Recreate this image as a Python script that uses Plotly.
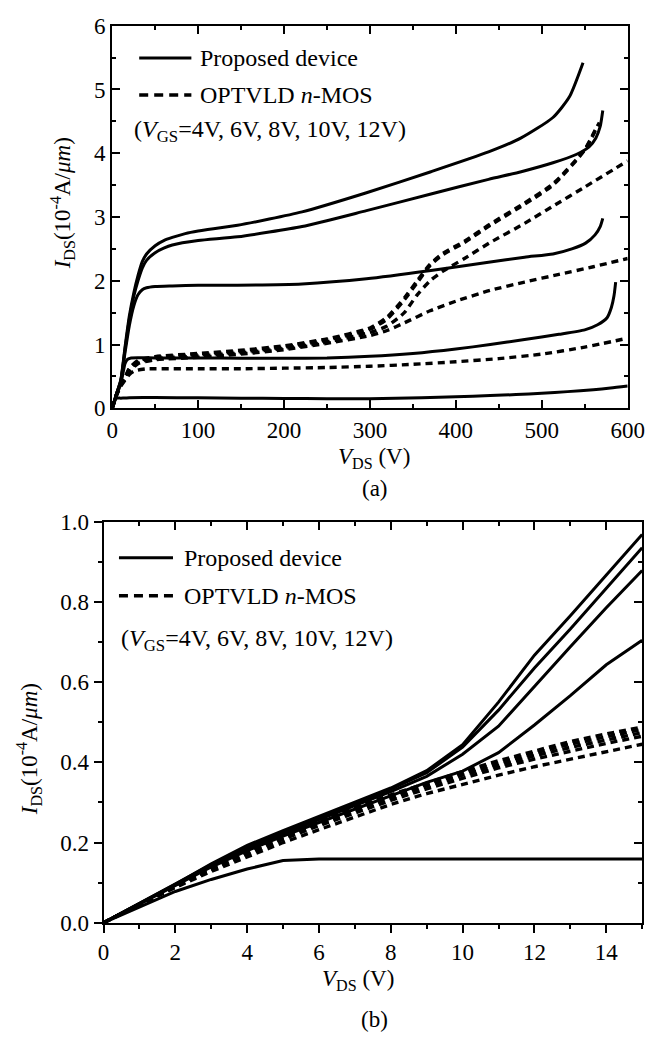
import plotly.graph_objects as go

SERIF = "Liberation Serif"

# ---------------- (a) output characteristics, V_DS up to 600 V ----------------
# Proposed device (solid), V_GS = 4, 6, 8, 10, 12 V
a_prop_x_4 = [0, 5, 10, 15, 20, 50, 100, 150, 200, 250, 300, 330, 360, 400, 440, 470, 500, 530, 560, 580, 600]
a_prop_y_4 = [0, 0.156, 0.16, 0.162, 0.166, 0.17, 0.165, 0.16, 0.155, 0.15, 0.152, 0.158, 0.165, 0.18, 0.2, 0.215, 0.238, 0.262, 0.292, 0.318, 0.35]

a_prop_x_6 = [0, 5, 10, 15, 18, 22, 50, 100, 150, 200, 250, 300, 350, 400, 440, 480, 520, 550, 565, 576, 581, 584, 586]
a_prop_y_6 = [0, 0.215, 0.378, 0.704, 0.77, 0.79, 0.79, 0.79, 0.785, 0.785, 0.79, 0.815, 0.86, 0.93, 1.0, 1.08, 1.16, 1.23, 1.31, 1.42, 1.58, 1.76, 1.98]

a_prop_x_8 = [0, 5, 10, 15, 20, 25, 30, 35, 40, 50, 70, 100, 146, 221, 296, 371, 438, 480, 513, 535, 551, 562, 568, 571]
a_prop_y_8 = [0, 0.221, 0.42, 0.878, 1.3, 1.6, 1.78, 1.86, 1.89, 1.91, 1.92, 1.93, 1.93, 1.95, 2.03, 2.16, 2.29, 2.37, 2.42, 2.5, 2.59, 2.72, 2.85, 2.98]

a_prop_x_10 = [0, 5, 10, 15, 20, 25, 30, 35, 40, 50, 60, 70, 100, 146, 221, 296, 371, 438, 476, 513, 540, 555, 563, 568, 571]
a_prop_y_10 = [0, 0.225, 0.438, 0.935, 1.4, 1.75, 2.0, 2.2, 2.32, 2.44, 2.51, 2.56, 2.63, 2.69, 2.85, 3.1, 3.36, 3.59, 3.71, 3.85, 3.98, 4.1, 4.24, 4.42, 4.67]

a_prop_x_12 = [0, 5, 10, 15, 20, 25, 30, 35, 40, 50, 60, 70, 85, 100, 146, 221, 296, 371, 438, 476, 513, 532, 548]
a_prop_y_12 = [0, 0.23, 0.444, 0.968, 1.45, 1.8, 2.08, 2.3, 2.42, 2.55, 2.63, 2.68, 2.74, 2.78, 2.87, 3.08, 3.38, 3.71, 4.02, 4.24, 4.56, 4.88, 5.42]

# OPTVLD n-MOS (dashed)
a_ref_x_4 = [0, 5, 10, 15, 20, 25, 30, 40, 50, 100, 150, 200, 250, 300, 350, 400, 450, 500, 550, 600]
a_ref_y_4 = [0, 0.2, 0.346, 0.445, 0.53, 0.58, 0.6, 0.62, 0.62, 0.62, 0.62, 0.63, 0.64, 0.66, 0.69, 0.73, 0.78, 0.85, 0.96, 1.1]

a_ref_x_6 = [0, 5, 10, 15, 20, 30, 50, 100, 150, 200, 250, 300, 320, 340, 370, 400, 440, 480, 520, 560, 600]
a_ref_y_6 = [0, 0.208, 0.361, 0.465, 0.58, 0.7, 0.76, 0.8, 0.85, 0.92, 1.02, 1.14, 1.22, 1.34, 1.53, 1.68, 1.85, 1.98, 2.1, 2.22, 2.35]

a_ref_x_8 = [0, 5, 10, 15, 20, 30, 50, 100, 150, 200, 250, 300, 320, 340, 355, 370, 385, 410, 440, 480, 513, 550, 600]
a_ref_y_8 = [0, 0.211, 0.368, 0.474, 0.6, 0.72, 0.78, 0.82, 0.87, 0.94, 1.04, 1.19, 1.29, 1.5, 1.78, 2.0, 2.15, 2.35, 2.6, 2.9, 3.17, 3.47, 3.88]

a_ref_x_10 = [0, 5, 10, 15, 20, 30, 50, 100, 150, 200, 250, 300, 320, 340, 355, 370, 385, 410, 440, 480, 513, 550, 567]
a_ref_y_10 = [0, 0.214, 0.373, 0.482, 0.62, 0.74, 0.8, 0.84, 0.89, 0.96, 1.07, 1.24, 1.4, 1.7, 1.97, 2.24, 2.41, 2.6, 2.87, 3.2, 3.5, 4.05, 4.48]

a_ref_x_12 = [0, 5, 10, 15, 20, 30, 50, 100, 150, 200, 250, 300, 320, 340, 355, 370, 385, 410, 440, 480, 513, 550, 565]
a_ref_y_12 = [0, 0.216, 0.377, 0.488, 0.63, 0.75, 0.81, 0.86, 0.91, 0.98, 1.09, 1.26, 1.43, 1.73, 2.0, 2.26, 2.43, 2.62, 2.89, 3.22, 3.52, 4.06, 4.44]

# ---------------- (b) low-voltage region, V_DS up to 15 V ----------------
b_vds = [0, 1, 2, 3, 4, 5, 6, 7, 8, 9, 10, 11, 12, 13, 14, 15]

b_prop_4 = [0, 0.039, 0.078, 0.108, 0.134, 0.155, 0.159, 0.159, 0.159, 0.159, 0.159, 0.159, 0.159, 0.159, 0.159, 0.159]
b_prop_6 = [0, 0.047, 0.093, 0.139, 0.18, 0.216, 0.25, 0.284, 0.318, 0.35, 0.378, 0.424, 0.493, 0.566, 0.643, 0.704]
b_prop_8 = [0, 0.047, 0.094, 0.142, 0.185, 0.222, 0.257, 0.292, 0.327, 0.365, 0.42, 0.49, 0.59, 0.688, 0.785, 0.878]
b_prop_10 = [0, 0.048, 0.095, 0.145, 0.19, 0.227, 0.262, 0.297, 0.333, 0.374, 0.438, 0.53, 0.635, 0.732, 0.834, 0.935]
b_prop_12 = [0, 0.048, 0.096, 0.147, 0.193, 0.23, 0.265, 0.3, 0.336, 0.379, 0.444, 0.55, 0.667, 0.765, 0.866, 0.968]

b_ref_4 = [0, 0.045, 0.088, 0.128, 0.165, 0.2, 0.232, 0.264, 0.295, 0.322, 0.346, 0.368, 0.389, 0.408, 0.427, 0.445]
b_ref_6 = [0, 0.046, 0.09, 0.132, 0.171, 0.208, 0.242, 0.274, 0.305, 0.334, 0.361, 0.386, 0.408, 0.428, 0.447, 0.465]
b_ref_8 = [0, 0.046, 0.091, 0.134, 0.174, 0.211, 0.246, 0.279, 0.311, 0.341, 0.368, 0.393, 0.416, 0.437, 0.456, 0.474]
b_ref_10 = [0, 0.047, 0.092, 0.136, 0.177, 0.214, 0.25, 0.284, 0.316, 0.346, 0.373, 0.399, 0.423, 0.445, 0.464, 0.482]
b_ref_12 = [0, 0.047, 0.093, 0.137, 0.178, 0.216, 0.252, 0.287, 0.319, 0.349, 0.377, 0.404, 0.429, 0.452, 0.471, 0.488]

SOLID = dict(color="black", width=3)
DASHED = dict(color="black", width=3.4, dash="7px,5px")
SOLID_SMOOTH = dict(SOLID, shape="spline", smoothing=0.6)
DASHED_SMOOTH = dict(DASHED, shape="spline", smoothing=0.6)

fig = go.Figure()

a_prop = [(a_prop_x_4, a_prop_y_4), (a_prop_x_6, a_prop_y_6), (a_prop_x_8, a_prop_y_8),
          (a_prop_x_10, a_prop_y_10), (a_prop_x_12, a_prop_y_12)]
a_ref = [(a_ref_x_4, a_ref_y_4), (a_ref_x_6, a_ref_y_6), (a_ref_x_8, a_ref_y_8),
         (a_ref_x_10, a_ref_y_10), (a_ref_x_12, a_ref_y_12)]

for xs, ys in a_ref:
    fig.add_trace(go.Scatter(x=xs, y=ys, mode="lines", line=DASHED_SMOOTH, xaxis="x", yaxis="y", showlegend=False))
for xs, ys in a_prop:
    fig.add_trace(go.Scatter(x=xs, y=ys, mode="lines", line=SOLID_SMOOTH, xaxis="x", yaxis="y", showlegend=False))

for ys in [b_ref_4, b_ref_6, b_ref_8, b_ref_10, b_ref_12]:
    fig.add_trace(go.Scatter(x=b_vds, y=ys, mode="lines", line=DASHED, xaxis="x2", yaxis="y2", showlegend=False))
for ys in [b_prop_4, b_prop_6, b_prop_8, b_prop_10, b_prop_12]:
    fig.add_trace(go.Scatter(x=b_vds, y=ys, mode="lines", line=SOLID, xaxis="x2", yaxis="y2", showlegend=False))

# empty trace so the inward-tick overlay axes of panel (b) get drawn
fig.add_trace(go.Scatter(x=[], y=[], xaxis="x3", yaxis="y3", showlegend=False, hoverinfo="skip"))

tickfont = dict(family=SERIF, size=23, color="black")
base = dict(showline=True, linecolor="black", linewidth=2, showgrid=False, zeroline=False,
            tickwidth=2, tickcolor="black", tickfont=tickfont)

fig.update_layout(
    width=664, height=1050,
    margin=dict(l=0, r=0, t=0, b=0),
    paper_bgcolor="white", plot_bgcolor="white",
    font=dict(family=SERIF, color="black", size=23),
    xaxis=dict(**base, domain=[110 / 664, 644 / 664], anchor="y", range=[0, 600], dtick=100,
               ticks="inside", ticklen=8, mirror="ticks",
               minor=dict(dtick=50, ticks="inside", ticklen=4, tickwidth=2, tickcolor="black")),
    yaxis=dict(**base, domain=[1 - 406 / 1050, 1 - 14 / 1050], anchor="x", range=[0, 6], dtick=1,
               ticks="inside", ticklen=8, mirror="ticks",
               minor=dict(dtick=0.5, ticks="inside", ticklen=4, tickwidth=2, tickcolor="black")),
    xaxis2=dict(**base, domain=[101 / 664, 659 / 664], anchor="y2", range=[0, 15], dtick=2,
                ticks="outside", ticklen=8, mirror=True,
                minor=dict(dtick=1, ticks="outside", ticklen=4, tickwidth=2, tickcolor="black")),
    yaxis2=dict(**base, domain=[1 - 933 / 1050, 1 - 522 / 1050], anchor="x2", range=[0, 1], dtick=0.2,
                tickformat=".1f", ticks="outside", ticklen=8, mirror=True,
                minor=dict(dtick=0.1, ticks="outside", ticklen=4, tickwidth=2, tickcolor="black")),
    xaxis3=dict(overlaying="x2", side="top", anchor="y2", range=[0, 15], dtick=2, showline=False,
                showgrid=False, zeroline=False, showticklabels=False,
                ticks="inside", ticklen=8, tickwidth=2, tickcolor="black",
                minor=dict(dtick=1, ticks="inside", ticklen=4, tickwidth=2, tickcolor="black")),
    yaxis3=dict(overlaying="y2", side="right", anchor="x3", range=[0, 1], dtick=0.2, showline=False,
                showgrid=False, zeroline=False, showticklabels=False,
                ticks="inside", ticklen=8, tickwidth=2, tickcolor="black",
                minor=dict(dtick=0.1, ticks="inside", ticklen=4, tickwidth=2, tickcolor="black")),
)

label_font = dict(family=SERIF, size=23, color="black")
legend_font = dict(family=SERIF, size=24, color="black")

ylabel = "<i>I</i><sub>DS</sub>(10<sup>-4</sup>A/<i>μm</i>)"
xlabel = "<i>V</i><sub>DS</sub> (V)"
vgs_note = "(<i>V</i><sub>GS</sub>=4V, 6V, 8V, 10V, 12V)"

annotations = [
    # panel (a)
    dict(text=xlabel, x=381 / 664, y=1 - 457 / 1050, xref="paper", yref="paper", showarrow=False,
         font=label_font, xanchor="center", yanchor="middle"),
    dict(text="(a)", x=382 / 664, y=1 - 488 / 1050, xref="paper", yref="paper", showarrow=False,
         font=label_font, xanchor="center", yanchor="middle"),
    dict(text=ylabel, x=58 / 664, y=1 - 196 / 1050, xref="paper", yref="paper", showarrow=False,
         font=label_font, textangle=-90, xanchor="center", yanchor="middle"),
    dict(text="Proposed device", x=0.1667, y=0.9158, xref="x domain", yref="y domain", showarrow=False,
         font=legend_font, xanchor="left", yanchor="middle"),
    dict(text="OPTVLD <i>n</i>-MOS", x=0.1667, y=0.8189, xref="x domain", yref="y domain", showarrow=False,
         font=legend_font, xanchor="left", yanchor="middle"),
    dict(text=vgs_note, x=0.0375, y=0.726, xref="x domain", yref="y domain", showarrow=False,
         font=legend_font, xanchor="left", yanchor="middle"),
    # panel (b)
    dict(text=xlabel, x=365 / 664, y=1 - 992 / 1050, xref="paper", yref="paper", showarrow=False,
         font=label_font, xanchor="center", yanchor="middle"),
    dict(text="(b)", x=382 / 664, y=1 - 1032 / 1050, xref="paper", yref="paper", showarrow=False,
         font=label_font, xanchor="center", yanchor="middle"),
    dict(text=ylabel, x=23 / 664, y=1 - 755 / 1050, xref="paper", yref="paper", showarrow=False,
         font=label_font, textangle=-90, xanchor="center", yanchor="middle"),
    dict(text="Proposed device", x=0.145, y=0.91, xref="x2 domain", yref="y2 domain", showarrow=False,
         font=legend_font, xanchor="left", yanchor="middle"),
    dict(text="OPTVLD <i>n</i>-MOS", x=0.145, y=0.815, xref="x2 domain", yref="y2 domain", showarrow=False,
         font=legend_font, xanchor="left", yanchor="middle"),
    dict(text=vgs_note, x=0.0296, y=0.705, xref="x2 domain", yref="y2 domain", showarrow=False,
         font=legend_font, xanchor="left", yanchor="middle"),
]

# legend key lines
shapes = [
    dict(type="line", xref="x domain", yref="y domain", x0=0.0524, x1=0.1536, y0=0.9158, y1=0.9158,
         line=dict(color="black", width=3)),
    dict(type="line", xref="x domain", yref="y domain", x0=0.0524, x1=0.1536, y0=0.8189, y1=0.8189,
         line=dict(color="black", width=3.4, dash="9px,6px")),
    dict(type="line", xref="x2 domain", yref="y2 domain", x0=0.0287, x1=0.129, y0=0.91, y1=0.91,
         line=dict(color="black", width=3)),
    dict(type="line", xref="x2 domain", yref="y2 domain", x0=0.0287, x1=0.129, y0=0.815, y1=0.815,
         line=dict(color="black", width=3.4, dash="9px,6px")),
]

fig.update_layout(annotations=annotations, shapes=shapes)

fig.write_html("out.html")
